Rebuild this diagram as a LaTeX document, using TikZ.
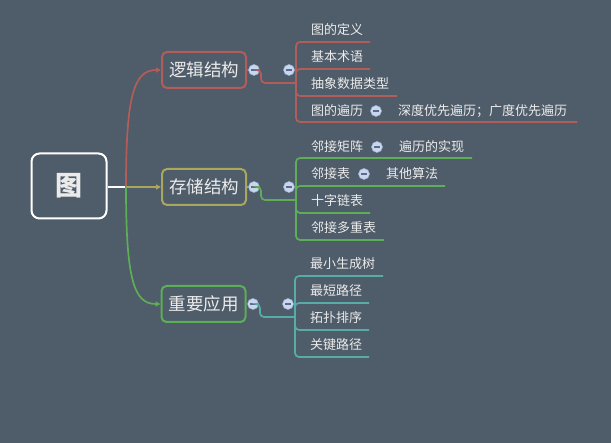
\documentclass[tikz,border=0pt]{standalone}
\usepackage{fontspec}
\setmainfont{Noto Sans CJK SC}
\usetikzlibrary{arrows.meta}
\definecolor{bg}{HTML}{4F5C69}
\definecolor{cred}{HTML}{B35D5A}
\definecolor{colive}{HTML}{A9A75B}
\definecolor{cgreen}{HTML}{5EAD57}
\definecolor{cteal}{HTML}{57ACA6}
\definecolor{ctext}{HTML}{EBEBEB}
\definecolor{cbub}{HTML}{C8D6EF}
\definecolor{cbubline}{HTML}{9DB1D4}
\definecolor{cminus}{HTML}{5C6B86}
\begin{document}
\begin{tikzpicture}[x=1pt,y=-1pt,
 rootbox/.style={draw=white, line width=2pt, rounded corners=8pt, fill=bg, minimum width=75pt, minimum height=65pt, text=ctext, font=\fontsize{27}{30}\selectfont\bfseries},
 branchbox/.style={line width=2pt, rounded corners=5pt, fill=bg, minimum width=84pt, minimum height=36pt, text=ctext, font=\fontsize{17.5}{20}\selectfont, inner sep=0pt},
 leaf/.style={anchor=west, text=ctext, font=\fontsize{13}{15}\selectfont, inner sep=0pt},
 bub/.style={circle, fill=cbub, draw=cbubline, line width=0.5pt, minimum size=11pt, inner sep=0pt,
   path picture={\draw[cminus, line width=1.2pt] ([xshift=-2.6pt]path picture bounding box.center) -- ([xshift=2.6pt]path picture bounding box.center);}},
 conn/.style={line width=1.7pt, rounded corners=4pt},
 tip/.style={-{Triangle[length=5pt,width=5pt]}},
]
\fill[bg] (0,0) rectangle (611,443);
\useasboundingbox (0,0) rectangle (611,443);

% root and branches
\node[rootbox] (root) at (69,186) {图};
\node[branchbox, draw=cred] (b1) at (204,70) {逻辑结构};
\node[branchbox, draw=colive] (b2) at (204,187) {存储结构};
\node[branchbox, draw=cgreen] (b3) at (203.5,304) {重要应用};
\coordinate (hub) at (126,187);

\draw[white, line width=2pt] (root.east |- hub) -- (hub);
\draw[cred, line width=1.7pt, tip] (hub) .. controls (126,95) and (134,70) .. (b1.west);
\draw[colive, line width=1.7pt, tip] (hub) -- (b2.west);
\draw[cgreen, line width=1.7pt, tip] (hub) .. controls (126,280) and (134,304) .. (b3.west);

% group 1
\node[bub] (c1a) at (254,70) {};
\coordinate (k1) at (261,83);
\coordinate (j1) at (296,83);
\coordinate (u11) at (370,42);
\coordinate (u12) at (370,69);
\coordinate (u13) at (397,96);
\coordinate (u14) at (577,122);
\draw[cred, conn] (b1.east) -- (c1a.west);
\draw[cred, conn] (c1a.east) -| (k1) -- (j1);
\foreach \u in {u11,u12,u13,u14} \draw[cred, conn] (j1) |- (\u);
\node[bub] (c1b) at (289,70) {};
\node[leaf] (t11) at (311,30) {图的定义};
\node[leaf] (t12) at (311,57) {基本术语};
\node[leaf] (t13) at (311,84) {抽象数据类型};
\node[leaf] (t14) at (311,111) {图的遍历};
\node[bub] (g14) at (376,111) {};
\node[leaf] (t141) at (398,111) {深度优先遍历；广度优先遍历};

% group 2
\node[bub] (c2a) at (254,187) {};
\coordinate (k2) at (261,200);
\coordinate (j2) at (296,200);
\coordinate (u21) at (472,158);
\coordinate (u22) at (445,186);
\coordinate (u23) at (370,213);
\coordinate (u24) at (384,240);
\draw[colive, conn] (b2.east) -- (c2a.west);
\draw[cgreen, conn] (c2a.east) -| (k2) -- (j2);
\foreach \u in {u21,u22,u23,u24} \draw[cgreen, conn] (j2) |- (\u);
\node[bub] (c2b) at (289,187) {};
\node[leaf] (t21) at (311,147) {邻接矩阵};
\node[bub] (g21) at (377,147) {};
\node[leaf] (t211) at (399,147) {遍历的实现};
\node[leaf] (t22) at (311,174) {邻接表};
\node[bub] (g22) at (364,174) {};
\node[leaf] (t221) at (386,174) {其他算法};
\node[leaf] (t23) at (311,201) {十字链表};
\node[leaf] (t24) at (311,228) {邻接多重表};

% group 3
\node[bub] (c3a) at (253,304) {};
\coordinate (k3) at (260,317);
\coordinate (j3) at (295,317);
\coordinate (u31) at (383,276);
\coordinate (u32) at (369,303);
\coordinate (u33) at (369,330);
\coordinate (u34) at (369,357);
\draw[cteal, conn] (b3.east) -- (c3a.west);
\draw[cteal, conn] (c3a.east) -| (k3) -- (j3);
\foreach \u in {u31,u32,u33,u34} \draw[cteal, conn] (j3) |- (\u);
\node[bub] (c3b) at (288,304) {};
\node[leaf] (t31) at (310,264) {最小生成树};
\node[leaf] (t32) at (310,291) {最短路径};
\node[leaf] (t33) at (310,318) {拓扑排序};
\node[leaf] (t34) at (310,345) {关键路径};
\end{tikzpicture}
\end{document}
